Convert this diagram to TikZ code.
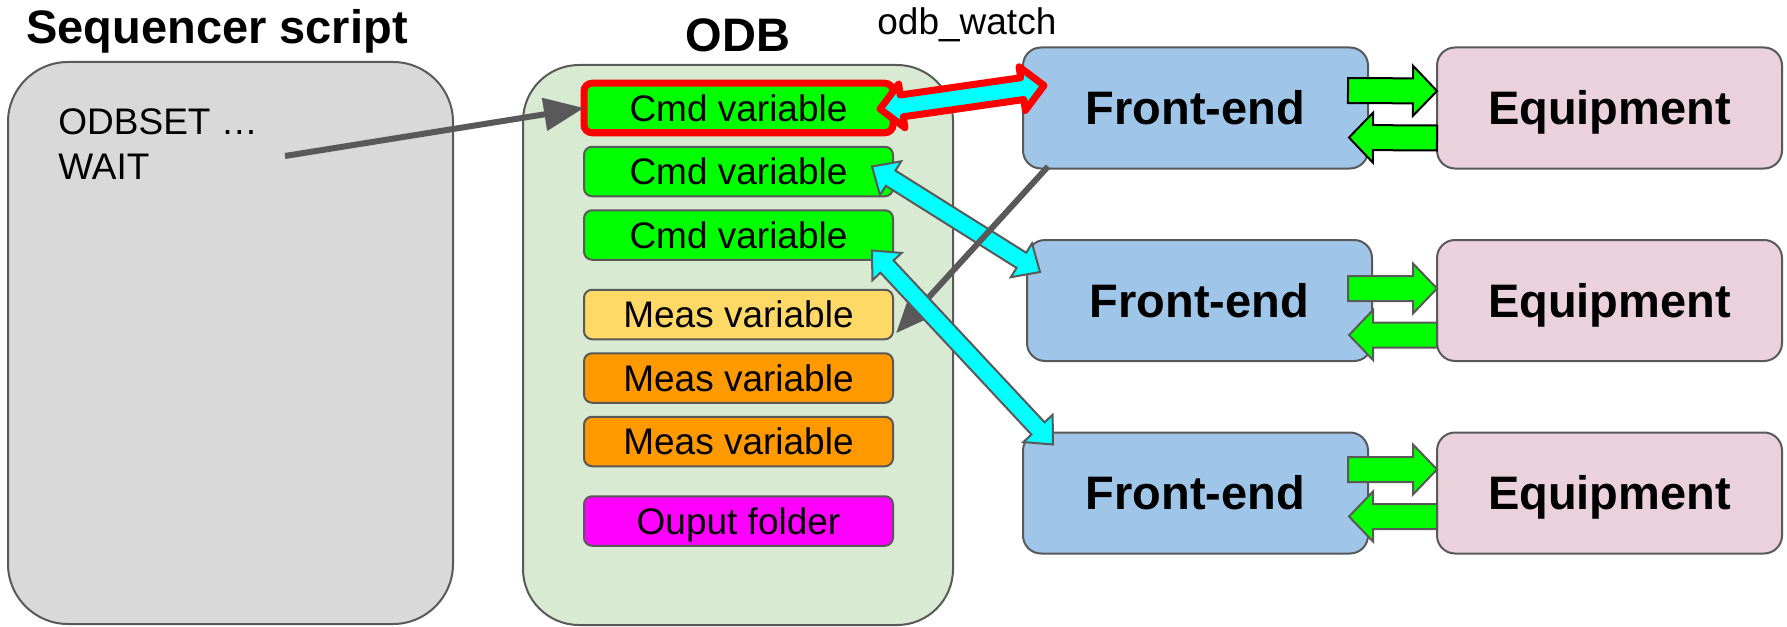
\documentclass[tikz,border=0pt]{standalone}
\usepackage{fontspec}
\setmainfont{Liberation Sans}
\usetikzlibrary{arrows.meta,positioning,calc}

\definecolor{linegray}{HTML}{595959}
\definecolor{seqgray}{HTML}{D9D9D9}
\definecolor{odbgreen}{HTML}{D9EAD3}
\definecolor{cmdgreen}{HTML}{00FF00}
\definecolor{measyellow}{HTML}{FFD966}
\definecolor{measorange}{HTML}{FF9900}
\definecolor{outmagenta}{HTML}{FF00FF}
\definecolor{feblue}{HTML}{9FC5E8}
\definecolor{eqpink}{HTML}{EAD1DC}
\definecolor{linkcyan}{HTML}{00FFFF}
\definecolor{watchred}{HTML}{FF0000}

\newcommand{\bodyfont}{\fontsize{18.5pt}{22.5pt}\selectfont}
\newcommand{\titlefont}{\fontsize{23.5pt}{28pt}\selectfont\bfseries}

\tikzset{
  shaft half/.store in = \shafthalf,
  head half/.store in  = \headhalf,
  head len/.store in   = \headlen,
  arrowbody/.style     = {},
  panel/.style   = {draw=linegray, line width=1pt, inner sep=0pt, outer sep=0pt},
  heading/.style = {inner sep=0pt, font=\titlefont},
  var/.style     = {panel, fill=#1, rounded corners=4pt, minimum width=154.5pt,
                    minimum height=24.75pt, font=\bodyfont, text height=13.3pt, text depth=0pt},
  watched/.style = {draw=watchred, line width=3.5pt},
  stage/.style   = {panel, fill=#1, rounded corners=9pt, minimum width=172.5pt,
                    minimum height=60.5pt, font=\titlefont, text height=16.9pt, text depth=0pt},
  callarrow/.style  = {draw=linegray, line width=3pt, -{Triangle[length=20pt,width=16pt]}},
  linkarrow/.style  = {shaft half=4.5pt, head half=10pt, head len=11pt,
                       arrowbody/.style={fill=linkcyan, draw=linegray, line width=1pt}},
  watcharrow/.style = {shaft half=5.5pt, head half=11pt, head len=11pt,
                       arrowbody/.style={fill=linkcyan, draw=watchred, line width=3.5pt, line join=round}},
  ioarrow/.style    = {shaft half=6.25pt, head half=12.5pt, head len=12pt,
                       arrowbody/.style={fill=cmdgreen, draw=#1, line width=1pt}},
  ioarrow/.default  = linegray
}

% block arrow with a head at both ends
\newcommand{\twoway}[3][]{%
  \begin{scope}[#1]
    \coordinate (tailpt) at (#2);
    \coordinate (tippt) at (#3);
    \coordinate (tailbase) at ($(tailpt)!\headlen!(tippt)$);
    \coordinate (tipbase) at ($(tippt)!\headlen!(tailpt)$);
    \path[arrowbody] (tailpt)
      -- ($(tailbase)!\headhalf!90:(tippt)$) -- ($(tailbase)!\shafthalf!90:(tippt)$)
      -- ($(tipbase)!\shafthalf!-90:(tailpt)$) -- ($(tipbase)!\headhalf!-90:(tailpt)$)
      -- (tippt)
      -- ($(tipbase)!\headhalf!90:(tailpt)$) -- ($(tipbase)!\shafthalf!90:(tailpt)$)
      -- ($(tailbase)!\shafthalf!-90:(tippt)$) -- ($(tailbase)!\headhalf!-90:(tippt)$)
      -- cycle;
  \end{scope}}

% block arrow with one head
\newcommand{\oneway}[3][]{%
  \begin{scope}[#1]
    \coordinate (tailpt) at (#2);
    \coordinate (tippt) at (#3);
    \coordinate (tipbase) at ($(tippt)!\headlen!(tailpt)$);
    \path[arrowbody] ($(tailpt)!\shafthalf!90:(tippt)$)
      -- ($(tipbase)!\shafthalf!-90:(tailpt)$) -- ($(tipbase)!\headhalf!-90:(tailpt)$)
      -- (tippt)
      -- ($(tipbase)!\headhalf!90:(tailpt)$) -- ($(tipbase)!\shafthalf!90:(tailpt)$)
      -- ($(tailpt)!\shafthalf!-90:(tippt)$) -- cycle;
  \end{scope}}

\begin{document}
\begin{tikzpicture}[x=0.5pt, y=-0.5pt]
  \useasboundingbox (0,0) rectangle (1787,626);

  % sequencer
  \node[panel, fill=seqgray, rounded corners=30pt, minimum width=222.5pt, minimum height=281pt] (seq) at (230.5,343) {};
  \node[heading, anchor=base west] (seqtitle) at (26,44) {Sequencer script};
  \node[anchor=north west, align=left, inner sep=0pt, font=\bodyfont] (code) at (58,108) {ODBSET …\\WAIT};
  \coordinate (setcall) at (285,156);

  % odb
  \node[panel, fill=odbgreen, rounded corners=28pt, minimum width=215pt, minimum height=280pt] (odb) at (738,345) {};
  \node[heading, anchor=base] (odbtitle) at ([shift={(0,-13)}]odb.north) {ODB};
  \node[var=cmdgreen, watched] (c1) at (738.5,108) {Cmd variable};
  \node[var=cmdgreen] (c2) [below=7pt of c1] {Cmd variable};
  \node[var=cmdgreen] (c3) [below=7pt of c2] {Cmd variable};
  \node[var=measyellow] (m1) [below=15pt of c3] {Meas variable};
  \node[var=measorange] (m2) [below=7pt of m1] {Meas variable};
  \node[var=measorange] (m3) [below=7pt of m2] {Meas variable};
  \node[var=outmagenta] (out) [below=15pt of m3] {Ouput folder};

  % front-ends and equipment
  \node[stage=feblue] (fe1) at (1195.5,108) {Front-end};
  \node[stage=feblue] (fe2) at (1199.5,300.5) {Front-end};
  \node[stage=feblue] (fe3) at (1195.5,493) {Front-end};
  \node[stage=eqpink] (eq1) [right=34.5pt of fe1] {Equipment};
  \node[stage=eqpink] (eq2) [right=32.5pt of fe2] {Equipment};
  \node[stage=eqpink] (eq3) [right=34.5pt of fe3] {Equipment};
  \node[anchor=base west, inner sep=0pt, font=\bodyfont] (watchlabel) at (877,35) {odb\_watch};

  % links
  \draw[callarrow] (setcall) -- (c1.west);
  \twoway[watcharrow]{[shift={(-13,1)}]c1.east}{[shift={(21,38)}]fe1.north west}
  \twoway[linkarrow]{[shift={(-21,-5)}]c2.east}{[shift={(13,32)}]fe2.north west}
  \draw[callarrow] ([shift={(25,-2)}]fe1.south west) -- ([shift={(3,-6)}]m1.south east);
  \twoway[linkarrow]{[shift={(-21,15.5)}]c3.east}{[shift={(30,12)}]fe3.north west}

  \oneway[ioarrow=black]{[shift={(-20,-17.5)}]fe1.east}{[shift={(0,-17)}]eq1.west}
  \oneway[ioarrow=black]{[shift={(0,30)}]eq1.west}{[shift={(-19,29.5)}]fe1.east}
  \oneway[ioarrow]{[shift={(-24,-12)}]fe2.east}{[shift={(0,-12)}]eq2.west}
  \oneway[ioarrow]{[shift={(0,34.5)}]eq2.west}{[shift={(-23,34.5)}]fe2.east}
  \oneway[ioarrow]{[shift={(-20,-23.5)}]fe3.east}{[shift={(0,-23.5)}]eq3.west}
  \oneway[ioarrow]{[shift={(0,23.5)}]eq3.west}{[shift={(-19,23.5)}]fe3.east}
\end{tikzpicture}
\end{document}
